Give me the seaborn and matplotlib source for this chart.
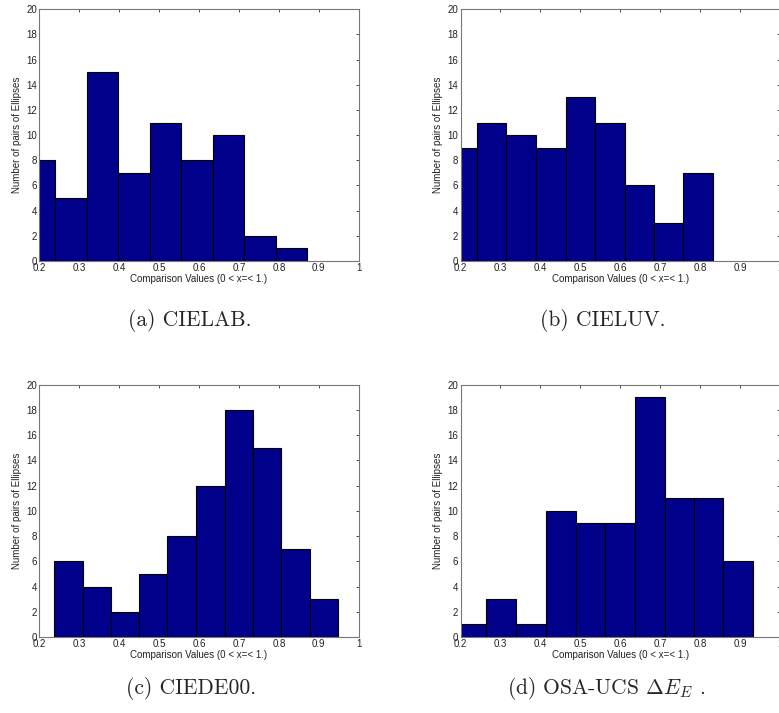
import numpy as np
import pandas as pd
import matplotlib
matplotlib.use("Agg")
import matplotlib.pyplot as plt
import seaborn as sns
from matplotlib.ticker import FuncFormatter, MultipleLocator

# ---------------------------------
# datos (bordes de bins y conteos)
# ---------------------------------
edges_lab = [0.160, 0.239, 0.319, 0.398, 0.477, 0.555, 0.634, 0.713, 0.792, 0.871]
counts_lab = [8, 5, 15, 7, 11, 8, 10, 2, 1]

edges_luv = [0.168, 0.242, 0.315, 0.390, 0.464, 0.536, 0.611, 0.684, 0.757, 0.831]
counts_luv = [9, 11, 10, 9, 13, 11, 6, 3, 7]

edges_de00 = [0.238, 0.309, 0.379, 0.450, 0.521, 0.593, 0.664, 0.735, 0.806, 0.877, 0.949]
counts_de00 = [6, 4, 2, 5, 8, 12, 18, 15, 7, 3]

edges_osa = [0.191, 0.265, 0.340, 0.414, 0.488, 0.562, 0.636, 0.711, 0.784, 0.858, 0.933]
counts_osa = [1, 3, 1, 10, 9, 9, 19, 11, 11, 6]

captions = ["(a) CIELAB.", "(b) CIELUV.", "(c) CIEDE00.", r"(d) OSA-UCS $\Delta E_E$ ."]

xlabel = "Comparison Values (0 < x=< 1.)"
ylabel = "Number of pairs of Ellipses"

# ---------------------------------
# estilo
# ---------------------------------
sns.set_style("white")
plt.rcParams["font.family"] = ["Liberation Sans", "DejaVu Sans"]
plt.rcParams["mathtext.fontset"] = "cm"

W, H = 779, 713
fig = plt.figure(figsize=(W / 100, H / 100), dpi=100)

# posiciones de los ejes en pixeles: (izq, arriba, ancho, alto)
ax_px = [(39.3, 9.3, 319.5, 251.7),
         (460.5, 9.3, 319.5, 251.7),
         (39.3, 384.7, 319.5, 252.3),
         (460.5, 384.7, 319.5, 252.3)]
cap_pos = [(190, 320), (603, 320), (191, 689), (606, 689)]

datos = [(edges_lab, counts_lab), (edges_luv, counts_luv),
         (edges_de00, counts_de00), (edges_osa, counts_osa)]

fmt = FuncFormatter(lambda v, p: f"{v:g}".replace("-", ""))

for i, (edges, counts) in enumerate(datos):
    l, t, w, h = ax_px[i]
    ax = fig.add_axes([l / W, 1 - (t + h) / H, w / W, h / H])

    e = np.array(edges)
    df = pd.DataFrame({"valor": (e[:-1] + e[1:]) / 2, "n": counts})
    sns.histplot(data=df, x="valor", weights="n", bins=list(edges), ax=ax,
                 color="#00008B", alpha=1, edgecolor="black", linewidth=0.8)

    ax.set_xlim(0.2, 1)
    ax.set_ylim(0, 20)
    ax.xaxis.set_major_locator(MultipleLocator(0.1))
    ax.yaxis.set_major_locator(MultipleLocator(2))
    ax.xaxis.set_major_formatter(fmt)
    ax.yaxis.set_major_formatter(fmt)
    ax.tick_params(direction="in", length=2.5, width=0.6, labelsize=7,
                   top=True, right=True, pad=1.5, colors="#333333",
                   labelcolor="#222222")
    for s in ax.spines.values():
        s.set_color("#777777")
        s.set_linewidth(0.8)
    ax.set_xlabel(xlabel, fontsize=7, labelpad=1, color="#222222")
    ax.set_ylabel(ylabel, fontsize=7, labelpad=3, color="#222222")

    cx, cy = cap_pos[i]
    fig.text(cx / W, 1 - cy / H, captions[i], ha="center", va="center",
             fontsize=15.5, family="cmr10")

fig.savefig("out.png", dpi=100)
